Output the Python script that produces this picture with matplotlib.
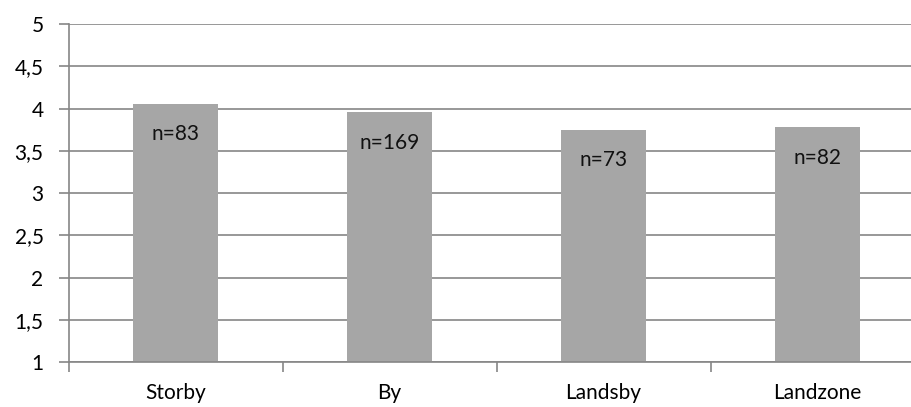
# Gennemsnit pr. bytype

import matplotlib.pyplot as plt

categories = ['Storby', 'By', 'Landsby', 'Landzone']
values = [4.06, 3.96, 3.75, 3.78]
n_labels = ['n=83', 'n=169', 'n=73', 'n=82']
yticks = [1, 1.5, 2, 2.5, 3, 3.5, 4, 4.5, 5]
ytick_labels = ['1', '1,5', '2', '2,5', '3', '3,5', '4', '4,5', '5']

plt.rcParams['font.family'] = ['Lato', 'DejaVu Sans']

fig = plt.figure(figsize=(9.11, 4.07), dpi=100)
ax = fig.add_axes([68.6/911, 1-362.3/407, 856/911, 338.3/407])

x = range(len(categories))
bars = ax.bar(x, [v - 1 for v in values], bottom=1, width=0.4, color='#a6a6a6', zorder=2)

for i, (v, lab) in enumerate(zip(values, n_labels)):
    ax.annotate(lab, (i, v), xytext=(0, -22), textcoords='offset points',
                ha='center', va='center', fontsize=15, color='#111111', zorder=3)

ax.set_ylim(1, 5)
ax.set_xlim(-0.5, 3.5)
ax.set_yticks(yticks)
ax.set_yticklabels(ytick_labels, fontsize=15)
ax.yaxis.grid(True, color='#868686', linewidth=1.2, zorder=0)

ax.set_xticks([i for i in x])
ax.set_xticklabels(categories, fontsize=15)
ax.set_xticks([-0.5, 0.5, 1.5, 2.5, 3.5], minor=True)
ax.tick_params(axis='x', which='major', length=0, pad=15)
ax.tick_params(axis='x', which='minor', length=7, color='#868686', width=1.2)
ax.tick_params(axis='y', length=7, color='#868686', width=1.2, pad=11)

for side in ['top', 'right']:
    ax.spines[side].set_visible(False)
ax.spines['left'].set_color('#868686')
ax.spines['bottom'].set_color('#868686')
ax.spines['left'].set_linewidth(1.2)
ax.spines['bottom'].set_linewidth(1.2)

plt.savefig('out.png', dpi=100)
